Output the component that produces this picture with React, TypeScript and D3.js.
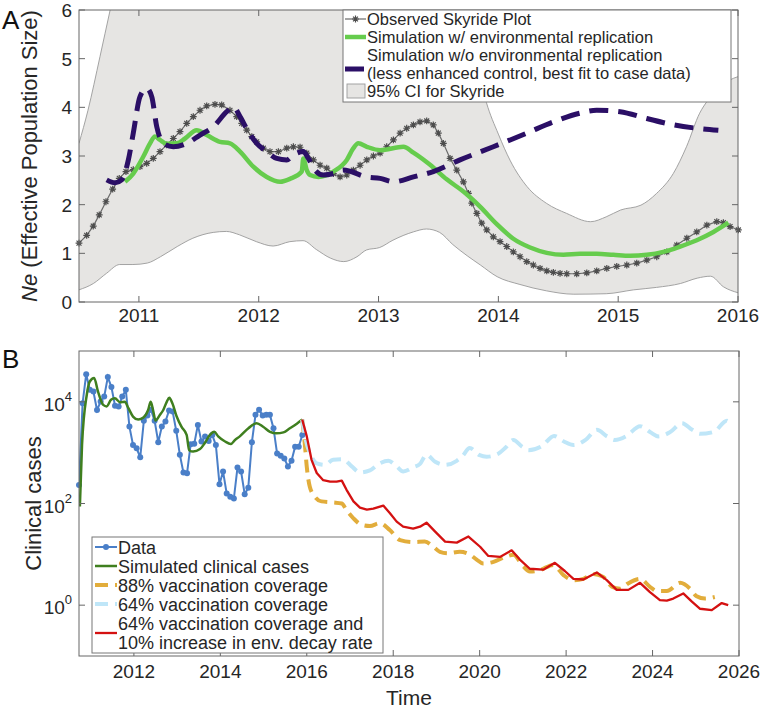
import React from "react";
import * as d3 from "d3";

// ---------------- Panel A data ----------------
const skyYears = [2010.50, 2010.564, 2010.619, 2010.669, 2010.725, 2010.781, 2010.836, 2010.892, 2010.953, 2011.009, 2011.065, 2011.120, 2011.176, 2011.232, 2011.287, 2011.343, 2011.399, 2011.454, 2011.510, 2011.566, 2011.635, 2011.691, 2011.760, 2011.816, 2011.858, 2011.900, 2011.942, 2011.983, 2012.038, 2012.094, 2012.164, 2012.234, 2012.289, 2012.345, 2012.401, 2012.456, 2012.512, 2012.568, 2012.623, 2012.679, 2012.735, 2012.790, 2012.846, 2012.902, 2012.957, 2013.013, 2013.068, 2013.124, 2013.180, 2013.235, 2013.291, 2013.346, 2013.402, 2013.457, 2013.499, 2013.541, 2013.597, 2013.653, 2013.708, 2013.750, 2013.778, 2013.820, 2013.861, 2013.903, 2013.958, 2014.014, 2014.070, 2014.125, 2014.181, 2014.237, 2014.292, 2014.348, 2014.404, 2014.459, 2014.515, 2014.571, 2014.654, 2014.738, 2014.821, 2014.905, 2014.988, 2015.072, 2015.155, 2015.239, 2015.322, 2015.406, 2015.489, 2015.573, 2015.656, 2015.740, 2015.823, 2015.878, 2015.934, 2016.003];
const skyNe = [1.21, 1.37, 1.56, 1.79, 2.06, 2.32, 2.54, 2.68, 2.72, 2.78, 2.85, 2.95, 3.09, 3.23, 3.36, 3.50, 3.67, 3.81, 3.94, 4.03, 4.06, 4.05, 3.94, 3.81, 3.67, 3.53, 3.40, 3.29, 3.16, 3.09, 3.09, 3.16, 3.19, 3.18, 3.06, 2.92, 2.81, 2.75, 2.64, 2.57, 2.61, 2.71, 2.81, 2.92, 3.00, 3.06, 3.19, 3.33, 3.47, 3.57, 3.64, 3.70, 3.72, 3.64, 3.47, 3.26, 2.95, 2.71, 2.47, 2.23, 2.03, 1.82, 1.62, 1.48, 1.34, 1.24, 1.14, 1.03, 0.93, 0.83, 0.76, 0.69, 0.64, 0.61, 0.59, 0.58, 0.58, 0.60, 0.64, 0.69, 0.73, 0.76, 0.80, 0.86, 0.93, 1.03, 1.17, 1.31, 1.44, 1.58, 1.65, 1.63, 1.55, 1.48];

const ciUpperYears = [2010.50, 2010.575, 2010.675, 2010.76, 2010.85, 2011.5, 2013.40, 2013.70, 2013.90, 2014.00, 2014.10, 2014.24, 2014.40, 2014.57, 2014.77, 2014.90, 2015.02, 2015.19, 2015.32, 2015.46, 2015.57, 2015.68, 2015.75, 2015.93, 2016.00];
const ciUpperNe = [3.26, 3.94, 5.04, 6.0, 7.0, 8.0, 8.0, 6.5, 4.10, 3.45, 2.90, 2.37, 2.03, 1.82, 1.65, 1.75, 1.89, 1.99, 2.23, 2.64, 3.19, 3.88, 4.15, 4.56, 4.63];
const ciLowerYears = [2010.50, 2010.62, 2010.73, 2010.84, 2010.95, 2011.07, 2011.18, 2011.32, 2011.45, 2011.62, 2011.73, 2011.84, 2011.98, 2012.12, 2012.26, 2012.37, 2012.48, 2012.60, 2012.71, 2012.82, 2012.90, 2013.01, 2013.12, 2013.29, 2013.40, 2013.51, 2013.62, 2013.74, 2013.85, 2013.99, 2014.18, 2014.40, 2014.63, 2014.90, 2015.13, 2015.32, 2015.52, 2015.66, 2015.77, 2015.88, 2016.00];
const ciLowerNe = [0.25, 0.38, 0.59, 0.77, 0.77, 0.80, 0.93, 1.14, 1.31, 1.43, 1.45, 1.38, 1.24, 1.15, 1.24, 1.26, 1.08, 0.90, 0.83, 0.93, 1.07, 1.12, 1.27, 1.44, 1.50, 1.43, 1.18, 0.95, 0.76, 0.52, 0.36, 0.23, 0.16, 0.17, 0.25, 0.30, 0.38, 0.49, 0.53, 0.31, 0.19];

const envYears = [2010.884, 2010.953, 2011.037, 2011.093, 2011.134, 2011.176, 2011.232, 2011.316, 2011.385, 2011.482, 2011.566, 2011.677, 2011.760, 2011.844, 2011.955, 2012.067, 2012.178, 2012.261, 2012.359, 2012.372, 2012.401, 2012.428, 2012.498, 2012.623, 2012.735, 2012.790, 2012.831, 2012.902, 2013.013, 2013.207, 2013.291, 2013.430, 2013.569, 2013.708, 2013.847, 2013.987, 2014.125, 2014.265, 2014.404, 2014.543, 2014.682, 2014.821, 2014.960, 2015.099, 2015.239, 2015.377, 2015.517, 2015.656, 2015.795, 2015.920];
const envNe = [2.47, 2.64, 2.99, 3.26, 3.40, 3.33, 3.25, 3.26, 3.36, 3.53, 3.43, 3.29, 3.26, 3.09, 2.78, 2.57, 2.47, 2.53, 2.68, 2.95, 2.71, 2.61, 2.57, 2.68, 2.92, 3.16, 3.26, 3.19, 3.12, 3.19, 3.07, 2.82, 2.52, 2.27, 1.96, 1.60, 1.30, 1.12, 1.01, 0.97, 0.99, 0.99, 0.97, 0.95, 0.97, 1.03, 1.14, 1.27, 1.44, 1.63];

const noEnvYears = [2010.731, 2010.801, 2010.856, 2010.912, 2010.953, 2011.009, 2011.065, 2011.107, 2011.149, 2011.204, 2011.287, 2011.399, 2011.510, 2011.621, 2011.733, 2011.788, 2011.844, 2011.913, 2011.983, 2012.067, 2012.150, 2012.234, 2012.289, 2012.372, 2012.414, 2012.470, 2012.539, 2012.623, 2012.706, 2012.902, 2013.013, 2013.124, 2013.291, 2013.457, 2013.680, 2013.958, 2014.237, 2014.459, 2014.682, 2014.821, 2015.016, 2015.239, 2015.461, 2015.656, 2015.836];
const noEnvNe = [2.51, 2.45, 2.51, 2.92, 3.47, 4.22, 4.39, 4.22, 3.60, 3.26, 3.19, 3.26, 3.43, 3.60, 3.91, 4.01, 3.81, 3.50, 3.26, 3.09, 2.95, 2.92, 3.02, 3.09, 2.95, 2.71, 2.61, 2.64, 2.71, 2.57, 2.54, 2.47, 2.57, 2.68, 2.92, 3.19, 3.47, 3.70, 3.88, 3.94, 3.91, 3.77, 3.64, 3.57, 3.53];

const yearTicksA = [2011, 2012, 2013, 2014, 2015, 2016];
const neTicks = [0, 1, 2, 3, 4, 5, 6];
const legendA = [
  "Observed Skyride Plot",
  "Simulation w/ environmental replication",
  "Simulation w/o environmental replication",
  "(less enhanced control, best fit to case data)",
  "95% CI for Skyride",
];

// ---------------- Panel B data ----------------
const caseDataStart = 2010.73; // monthly observations
const caseData = [230, 9400, 35000, 17200, 16000, 6900, 10100, 12700, 30700, 19500, 8400, 8100, 12700, 17200, 3260, 1420, 1220, 810, 4230, 5370, 6950, 4230, 1610, 3260, 4090, 6740, 6450, 2690, 910, 405, 395, 1470, 1490, 3520, 1650, 2070, 1700, 2230, 1410, 240, 425, 158, 135, 126, 510, 425, 152, 205, 1610, 5540, 6950, 5370, 5540, 5540, 3030, 960, 870, 770, 535, 690, 1310, 1310, 2230];

const simYears = [2010.75, 2010.80, 2010.91, 2010.98, 2011.08, 2011.17, 2011.29, 2011.37, 2011.47, 2011.56, 2011.68, 2011.79, 2011.87, 2011.98, 2012.10, 2012.22, 2012.33, 2012.39, 2012.45, 2012.50, 2012.60, 2012.68, 2012.76, 2012.82, 2012.89, 2012.99, 2013.10, 2013.22, 2013.28, 2013.37, 2013.53, 2013.64, 2013.76, 2013.86, 2013.95, 2014.11, 2014.24, 2014.34, 2014.45, 2014.65, 2014.84, 2014.99, 2015.15, 2015.30, 2015.46, 2015.61, 2015.77, 2015.895];
const simCases = [87, 1413, 13800, 25100, 29500, 15850, 8710, 8130, 10960, 11750, 9770, 10000, 7590, 5130, 4470, 4900, 6920, 10000, 6460, 4270, 5500, 6920, 10000, 12000, 9330, 5130, 3240, 2240, 1120, 1050, 1175, 1550, 2240, 2570, 2090, 1660, 1480, 1780, 2090, 3020, 3800, 3240, 2570, 2400, 2510, 3020, 3720, 4470];

const vac88Years = [2015.895, 2015.96, 2016.0, 2016.07, 2016.19, 2016.34, 2016.61, 2016.81, 2016.92, 2017.08, 2017.27, 2017.46, 2017.69, 2017.92, 2018.16, 2018.46, 2018.73, 2018.93, 2019.08, 2019.27, 2019.54, 2019.78, 2019.93, 2020.08, 2020.32, 2020.59, 2020.78, 2021.01, 2021.16, 2021.40, 2021.70, 2021.94, 2022.17, 2022.40, 2022.63, 2022.86, 2023.06, 2023.25, 2023.44, 2023.71, 2023.94, 2024.10, 2024.33, 2024.64, 2024.87, 2025.02, 2025.21, 2025.44];
const vac88Cases = [4470, 1318, 525, 214, 135, 110, 105, 100, 74, 51, 38, 36, 41, 30, 19, 17.4, 17.8, 14.1, 11.2, 10.5, 11.2, 9.8, 7.9, 6.6, 7.1, 8.9, 9.8, 5.8, 4.6, 4.9, 6.2, 3.9, 3.1, 3.3, 4.1, 3.6, 2.3, 2.1, 2.7, 3.3, 2.3, 1.9, 1.9, 2.75, 2.1, 1.5, 1.35, 1.45];

const vac64Years = [2015.895, 2015.96, 2016.11, 2016.23, 2016.42, 2016.61, 2016.84, 2017.04, 2017.23, 2017.46, 2017.69, 2017.89, 2018.08, 2018.23, 2018.46, 2018.62, 2018.77, 2018.97, 2019.20, 2019.47, 2019.60, 2019.77, 2020.00, 2020.16, 2020.43, 2020.60, 2020.78, 2020.98, 2021.13, 2021.44, 2021.72, 2021.95, 2022.17, 2022.45, 2022.71, 2022.95, 2023.13, 2023.40, 2023.71, 2023.95, 2024.13, 2024.40, 2024.68, 2024.92, 2025.10, 2025.42, 2025.72, 2025.79];
const vac64Cases = [4470, 2090, 832, 617, 575, 724, 741, 537, 407, 447, 617, 692, 537, 427, 513, 603, 912, 661, 575, 692, 851, 1230, 891, 832, 955, 1259, 1778, 1318, 1122, 1349, 2138, 1660, 1413, 1778, 2818, 2089, 1778, 2138, 3311, 2512, 2089, 2512, 3802, 2818, 2344, 2570, 4266, 3802];

const decayYears = [2015.895, 2016.00, 2016.11, 2016.23, 2016.38, 2016.54, 2016.69, 2016.81, 2016.92, 2017.08, 2017.23, 2017.39, 2017.54, 2017.77, 2017.92, 2018.08, 2018.23, 2018.46, 2018.62, 2018.77, 2018.97, 2019.20, 2019.47, 2019.74, 2020.01, 2020.20, 2020.47, 2020.74, 2020.93, 2021.16, 2021.47, 2021.74, 2021.97, 2022.17, 2022.40, 2022.71, 2022.94, 2023.17, 2023.44, 2023.71, 2023.94, 2024.17, 2024.33, 2024.48, 2024.71, 2024.91, 2025.10, 2025.37, 2025.60, 2025.75];
const decayCases = [4470, 2090, 724, 398, 288, 269, 269, 282, 186, 110, 83, 76, 79, 91, 65, 44, 35, 32, 35, 42, 28, 17.8, 17, 22.4, 14.1, 9.3, 8.9, 12, 7.9, 5.2, 5.0, 6.8, 4.7, 3.3, 3.2, 4.4, 3.1, 2.0, 2.0, 2.75, 1.8, 1.26, 1.23, 1.35, 1.7, 1.17, 0.85, 0.8, 1.1, 1.0];

const yearTicksB = [2012, 2014, 2016, 2018, 2020, 2022, 2024, 2026];
const caseTickExps = [0, 2, 4];
const legendB = [
  "Data",
  "Simulated clinical cases",
  "88% vaccination coverage",
  "64% vaccination coverage",
  "64% vaccination coverage and",
  "10% increase in env. decay rate",
];

// ---------------- styling ----------------
const FONT = "'Liberation Sans', Arial, Helvetica, sans-serif";
const AXIS = "#666666";
const TXT = "#262626";
const C_SKY = "#4d4d4d";
const C_ENV = "#66cc4d";
const C_NOENV = "#2b0f66";
const C_CI = "#e6e5e3";
const C_CIEDGE = "#9a9a9a";
const C_DATA = "#4a7fc8";
const C_SIM = "#3f7f1f";
const C_88 = "#e2ad3b";
const C_64 = "#bfe6f8";
const C_RED = "#d41111";

const boxA = { l: 79, r: 738, t: 10, b: 302 };
const boxB = { l: 79, r: 739, t: 351, b: 656 };

const xA = d3.scaleLinear().domain([2010.5, 2016]).range([boxA.l, boxA.r]);
const yA = d3.scaleLinear().domain([0, 6]).range([boxA.b, boxA.t]);
const xB = d3.scaleLinear().domain([2010.73, 2026]).range([boxB.l, boxB.r]);
const yB = d3.scaleLog().domain([0.1, 1e5]).range([boxB.b, boxB.t]);

type P = [number, number];

function asterisk(cx: number, cy: number, key: string | number, r = 3.4) {
  const a = r * 0.72;
  const d = `M${cx - r},${cy}L${cx + r},${cy}M${cx},${cy - r}L${cx},${cy + r}M${cx - a},${cy - a}L${cx + a},${cy + a}M${cx - a},${cy + a}L${cx + a},${cy - a}`;
  return <path key={key} d={d} stroke={C_SKY} strokeWidth={1.2} fill="none" />;
}

function Frame({ box, xs, xTicks, ys, yTicks }: any) {
  const tl = 6;
  return (
    <g>
      <rect x={box.l} y={box.t} width={box.r - box.l} height={box.b - box.t} fill="none" stroke={AXIS} strokeWidth={1} />
      {xTicks.map((t: number) => (
        <g key={"x" + t}>
          <line x1={xs(t)} x2={xs(t)} y1={box.b} y2={box.b - tl} stroke={AXIS} />
          <line x1={xs(t)} x2={xs(t)} y1={box.t} y2={box.t + tl} stroke={AXIS} />
        </g>
      ))}
      {yTicks.map((t: number) => (
        <g key={"y" + t}>
          <line x1={box.l} x2={box.l + tl} y1={ys(t)} y2={ys(t)} stroke={AXIS} />
          <line x1={box.r} x2={box.r - tl} y1={ys(t)} y2={ys(t)} stroke={AXIS} />
        </g>
      ))}
    </g>
  );
}

export default function App() {
  const lineA = d3.line<P>().x((d) => xA(d[0])).y((d) => yA(d[1]));
  const smoothA = d3.line<P>().x((d) => xA(d[0])).y((d) => yA(d[1])).curve(d3.curveMonotoneX);
  const lineB = d3.line<P>().x((d) => xB(d[0])).y((d) => yB(d[1]));
  const smoothB = d3.line<P>().x((d) => xB(d[0])).y((d) => yB(d[1])).curve(d3.curveMonotoneX);

  const skyPts = d3.zip(skyYears, skyNe) as P[];
  const upperPts = d3.zip(ciUpperYears, ciUpperNe) as P[];
  const lowerPts = d3.zip(ciLowerYears, ciLowerNe) as P[];
  const ciPath =
    (smoothA(upperPts) || "") +
    "L" +
    (smoothA(lowerPts.slice().reverse()) || "").slice(1) +
    "Z";
  const ciUpperEdge = smoothA(upperPts) || "";
  const ciLowerEdge = smoothA(lowerPts) || "";
  const envPts = d3.zip(envYears, envNe) as P[];
  const noEnvPts = d3.zip(noEnvYears, noEnvNe) as P[];

  const dataPts = caseData.map((v, i) => [caseDataStart + i / 12, v] as P);
  const simPts = d3.zip(simYears, simCases) as P[];
  const p88 = d3.zip(vac88Years, vac88Cases) as P[];
  const p64 = d3.zip(vac64Years, vac64Cases) as P[];
  const pDecay = d3.zip(decayYears, decayCases) as P[];

  const legAx = 343, legAy = 10, legAw = 388, legAh = 92;
  const rowA = [19, 37, 55, 73, 91];
  const legBx = 92, legBy = 537, legBw = 291, legBh = 116;
  const rowB = [547, 566, 585, 604, 623, 642];

  return (
    <svg
      width={763}
      height={710}
      viewBox="0 0 763 710"
      style={{ position: "absolute", left: 0, top: 0, background: "#fff" }}
      fontFamily={FONT}
    >
      <rect x={0} y={0} width={763} height={710} fill="#fff" />
      <defs>
        <clipPath id="clipA">
          <rect x={boxA.l} y={boxA.t} width={boxA.r - boxA.l} height={boxA.b - boxA.t} />
        </clipPath>
        <clipPath id="clipB">
          <rect x={boxB.l} y={boxB.t} width={boxB.r - boxB.l} height={boxB.b - boxB.t} />
        </clipPath>
      </defs>

      {/* ---------------- Panel A ---------------- */}
      <g clipPath="url(#clipA)">
        <path d={ciPath} fill={C_CI} stroke="none" />
        <path d={ciUpperEdge} fill="none" stroke={C_CIEDGE} strokeWidth={0.9} />
        <path d={ciLowerEdge} fill="none" stroke={C_CIEDGE} strokeWidth={0.9} />
      </g>
      <path d={lineA(skyPts) || ""} fill="none" stroke="#6a6a6a" strokeWidth={1.2} />
      {skyPts.map((p, i) => asterisk(xA(p[0]), yA(p[1]), "s" + i))}
      <path d={smoothA(envPts) || ""} fill="none" stroke={C_ENV} strokeWidth={4.5} strokeLinejoin="round" />
      <path d={smoothA(noEnvPts) || ""} fill="none" stroke={C_NOENV} strokeWidth={5} strokeDasharray="19 10" />

      <Frame box={boxA} xs={xA} xTicks={yearTicksA} ys={yA} yTicks={neTicks} />
      {yearTicksA.map((t) => (
        <text key={"ax" + t} x={xA(t)} y={322} fontSize={19} fill={TXT} textAnchor="middle">{t}</text>
      ))}
      {neTicks.map((t) => (
        <text key={"ay" + t} x={72} y={yA(t) + 7} fontSize={19} fill={TXT} textAnchor="end">{t}</text>
      ))}

      {/* legend A */}
      <rect x={legAx} y={legAy} width={legAw} height={legAh} fill="#fff" stroke="#777" strokeWidth={1} />
      <line x1={345} x2={366} y1={rowA[0]} y2={rowA[0]} stroke="#6a6a6a" strokeWidth={1.2} />
      {asterisk(355.5, rowA[0], "legsky")}
      <line x1={345} x2={366} y1={rowA[1]} y2={rowA[1]} stroke={C_ENV} strokeWidth={4.5} />
      <line x1={345} x2={364} y1={69} y2={69} stroke={C_NOENV} strokeWidth={5} />
      <rect x={347} y={84} width={18} height={14} fill={C_CI} stroke={C_CIEDGE} strokeWidth={0.9} />
      {legendA.map((s, i) => (
        <text key={"la" + i} x={367} y={rowA[i] + 6} fontSize={16.5} fill={TXT}>{s}</text>
      ))}

      <text x={2} y={29} fontSize={26} fill="#111">A</text>
      <text transform={`translate(37,${(boxA.t + boxA.b) / 2}) rotate(-90)`} fontSize={22} fill={TXT} textAnchor="middle">
        <tspan fontStyle="italic">Ne</tspan> (Effective Population Size)
      </text>

      {/* ---------------- Panel B ---------------- */}
      <g clipPath="url(#clipB)">
        <path d={lineB(dataPts) || ""} fill="none" stroke={C_DATA} strokeWidth={2} />
      </g>
      {dataPts.map((p, i) => (
        <circle key={"d" + i} cx={xB(p[0])} cy={yB(p[1])} r={3} fill={C_DATA} />
      ))}
      <g clipPath="url(#clipB)">
        <path d={smoothB(simPts) || ""} fill="none" stroke={C_SIM} strokeWidth={2.5} />
        <path d={smoothB(p88) || ""} fill="none" stroke={C_88} strokeWidth={4} strokeDasharray="13 7" />
        <path d={smoothB(p64) || ""} fill="none" stroke={C_64} strokeWidth={4} strokeDasharray="13 7" />
        <path d={lineB(pDecay) || ""} fill="none" stroke={C_RED} strokeWidth={2.3} strokeLinejoin="round" />
      </g>

      <Frame box={boxB} xs={xB} xTicks={yearTicksB} ys={(e: number) => yB(Math.pow(10, e))} yTicks={caseTickExps} />
      {yearTicksB.map((t) => (
        <text key={"bx" + t} x={xB(t)} y={678} fontSize={19} fill={TXT} textAnchor="middle">{t}</text>
      ))}
      {caseTickExps.map((e) => (
        <text key={"by" + e} x={72} y={yB(Math.pow(10, e)) + 9} fontSize={19} fill={TXT} textAnchor="end">
          10<tspan dy={-10} fontSize={13}>{e}</tspan>
        </text>
      ))}

      {/* legend B */}
      <rect x={legBx} y={legBy} width={legBw} height={legBh} fill="#fff" stroke="#777" strokeWidth={1} />
      <line x1={95} x2={117} y1={rowB[0]} y2={rowB[0]} stroke={C_DATA} strokeWidth={2} />
      <circle cx={106} cy={rowB[0]} r={3} fill={C_DATA} />
      <line x1={95} x2={117} y1={rowB[1]} y2={rowB[1]} stroke={C_SIM} strokeWidth={2.5} />
      <line x1={95} x2={117} y1={rowB[2]} y2={rowB[2]} stroke={C_88} strokeWidth={4} strokeDasharray="13 7" />
      <line x1={95} x2={117} y1={rowB[3]} y2={rowB[3]} stroke={C_64} strokeWidth={4} strokeDasharray="13 7" />
      <line x1={95} x2={117} y1={633} y2={633} stroke={C_RED} strokeWidth={2.3} />
      {legendB.map((s, i) => (
        <text key={"lb" + i} x={118} y={rowB[i] + 6.5} fontSize={18} fill={TXT}>{s}</text>
      ))}

      <text x={2} y={368} fontSize={26} fill="#111">B</text>
      <text transform={`translate(41,${(boxB.t + boxB.b) / 2}) rotate(-90)`} fontSize={22} fill={TXT} textAnchor="middle">
        Clinical cases
      </text>
      <text x={(boxB.l + boxB.r) / 2} y={705} fontSize={21} fill={TXT} textAnchor="middle">Time</text>
    </svg>
  );
}
